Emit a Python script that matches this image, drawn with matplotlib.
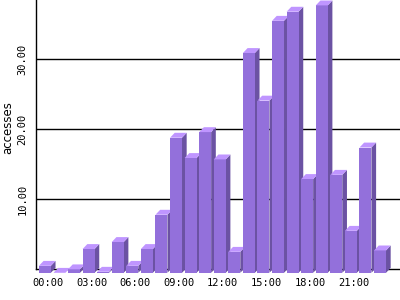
import matplotlib
matplotlib.use("Agg")
import matplotlib.pyplot as plt
from matplotlib.patches import Polygon

hours = list(range(24))
accesses = [1.0, 0.0, 0.5, 3.4, 0.15, 4.4, 1.0, 3.4, 8.3, 19.3, 16.4, 20.1,
            16.2, 3.0, 31.4, 24.6, 36.0, 37.3, 13.4, 38.2, 14.0, 6.0, 17.9, 3.2]
tick_hours = [0, 3, 6, 9, 12, 15, 18, 21]
tick_labels = ["00:00", "03:00", "06:00", "09:00", "12:00", "15:00", "18:00", "21:00"]
yticks = [10, 20, 30]
ytick_labels = ["10.00", "20.00", "30.00"]

front_c = "#9370db"
top_c = "#bf95ff"
side_c = "#6b52a3"

fig = plt.figure(figsize=(4, 3), dpi=100)
ax = fig.add_axes([0.09, 0.1023, 0.91, 0.8977])
ax.set_xlim(0, 24.98)
ax.set_ylim(0, 38.47)

for y in yticks:
    ax.axhline(y, color="black", linewidth=1, zorder=1)

# 3d-looking bars
off = 0.2
w = 0.82
dx = 0.32
dy = 0.7
base = -0.5
for h, v in zip(hours, accesses):
    x0 = h + off
    x1 = x0 + w
    ytop = v + base
    front = Polygon([(x0, base), (x1, base), (x1, ytop), (x0, ytop)],
                    closed=True, facecolor=front_c, edgecolor="none", zorder=3, clip_on=False)
    top = Polygon([(x0, ytop), (x1, ytop), (x1 + dx, ytop + dy), (x0 + dx, ytop + dy)],
                  closed=True, facecolor=top_c, edgecolor="none", zorder=3, clip_on=False)
    side = Polygon([(x1, base), (x1 + dx, base + dy), (x1 + dx, ytop + dy), (x1, ytop)],
                   closed=True, facecolor=side_c, edgecolor="none", zorder=3, clip_on=False)
    ax.add_patch(side)
    ax.add_patch(front)
    ax.add_patch(top)

ax.spines["top"].set_visible(False)
ax.spines["right"].set_visible(False)
ax.spines["left"].set_linewidth(1)
ax.spines["bottom"].set_linewidth(1)
ax.spines["left"].set_zorder(2)
ax.spines["bottom"].set_zorder(2)

ax.set_xticks([t + 0.82 for t in tick_hours])
ax.set_xticklabels(tick_labels, family="DejaVu Sans Mono", fontsize=7.5)
ax.set_yticks(yticks)
ax.set_yticklabels(ytick_labels, family="DejaVu Sans Mono", fontsize=7.5,
                   rotation=90, va="center")
ax.tick_params(axis="both", length=0)
ax.tick_params(axis="x", pad=6)
ax.tick_params(axis="y", pad=6)

ax.set_ylabel("accesses", fontsize=8.5)
ax.yaxis.set_label_coords(-0.06, 0.528)

fig.savefig("out.png", dpi=100)
